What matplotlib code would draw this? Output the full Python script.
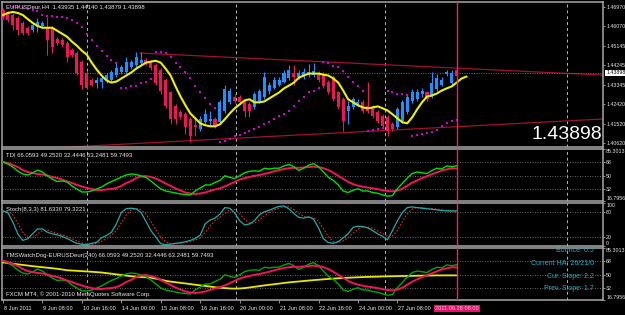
import numpy as np
import matplotlib
matplotlib.use('Agg')
import matplotlib.pyplot as plt
from matplotlib.transforms import blended_transform_factory

plt.rcParams['font.family'] = ['Liberation Sans', 'DejaVu Sans']

# ---------------- data ----------------
ha_open = [1.4683, 1.4669, 1.4660, 1.4646, 1.4623, 1.4600, 1.4590, 1.4604, 1.4609, 1.4604,
           1.4600, 1.4549, 1.4544, 1.4530, 1.4497, 1.4484, 1.4442, 1.4391, 1.4358, 1.4344,
           1.4349, 1.4358, 1.4358, 1.4381, 1.4395, 1.4395, 1.4419, 1.4428, 1.4437, 1.4451,
           1.4442, 1.4428, 1.4405, 1.4358, 1.4298, 1.4233, 1.4205, 1.4196, 1.4173, 1.4145,
           1.4126, 1.4159, 1.4163, 1.4173, 1.4159, 1.4210, 1.4252, 1.4279, 1.4275, 1.4256,
           1.4242, 1.4228, 1.4256, 1.4275, 1.4303, 1.4321, 1.4335, 1.4349, 1.4367, 1.4391,
           1.4372, 1.4372, 1.4381, 1.4381, 1.4391, 1.4386, 1.4349, 1.4372, 1.4298, 1.4266,
           1.4210, 1.4228, 1.4242, 1.4252, 1.4233, 1.4228, 1.4205, 1.4186, 1.4182, 1.4149,
           1.4135, 1.4163, 1.4205, 1.4256, 1.4266, 1.4289, 1.4298, 1.4279, 1.4312, 1.4335,
           1.4386, 1.4344, 1.4405]
ha_close = [1.4651, 1.4637, 1.4613, 1.4590, 1.4576, 1.4576, 1.4613, 1.4627, 1.4623, 1.4544,
            1.4511, 1.4530, 1.4521, 1.4465, 1.4474, 1.4391, 1.4335, 1.4321, 1.4335, 1.4358,
            1.4367, 1.4381, 1.4395, 1.4414, 1.4419, 1.4442, 1.4442, 1.4465, 1.4451, 1.4437,
            1.4414, 1.4344, 1.4303, 1.4233, 1.4173, 1.4173, 1.4182, 1.4135, 1.4094, 1.4135,
            1.4173, 1.4196, 1.4173, 1.4140, 1.4252, 1.4312, 1.4303, 1.4256, 1.4252, 1.4210,
            1.4210, 1.4289, 1.4303, 1.4372, 1.4335, 1.4358, 1.4358, 1.4391, 1.4405, 1.4372,
            1.4391, 1.4395, 1.4395, 1.4400, 1.4358, 1.4326, 1.4298, 1.4266, 1.4228, 1.4163,
            1.4233, 1.4266, 1.4252, 1.4210, 1.4210, 1.4186, 1.4163, 1.4140, 1.4117, 1.4126,
            1.4219, 1.4252, 1.4275, 1.4298, 1.4298, 1.4303, 1.4266, 1.4344, 1.4367, 1.4358,
            1.4395, 1.4391, 1.4377]
ha_high = [1.4692, 1.4678, 1.4669, 1.4655, 1.4632, 1.4609, 1.4623, 1.4646, 1.4632, 1.4651,
           1.4609, 1.4558, 1.4553, 1.4539, 1.4507, 1.4493, 1.4451, 1.4400, 1.4367, 1.4372,
           1.4377, 1.4391, 1.4405, 1.4437, 1.4428, 1.4465, 1.4451, 1.4488, 1.4488, 1.4460,
           1.4451, 1.4437, 1.4414, 1.4367, 1.4307, 1.4242, 1.4214, 1.4205, 1.4182, 1.4182,
           1.4186, 1.4219, 1.4210, 1.4182, 1.4261, 1.4335, 1.4321, 1.4289, 1.4284, 1.4266,
           1.4252, 1.4298, 1.4312, 1.4395, 1.4349, 1.4372, 1.4372, 1.4405, 1.4428, 1.4428,
           1.4405, 1.4414, 1.4433, 1.4437, 1.4400, 1.4395, 1.4358, 1.4381, 1.4307, 1.4275,
           1.4256, 1.4279, 1.4266, 1.4261, 1.4349, 1.4238, 1.4214, 1.4196, 1.4191, 1.4159,
           1.4228, 1.4261, 1.4289, 1.4312, 1.4312, 1.4317, 1.4307, 1.4395, 1.4386, 1.4372,
           1.4405, 1.4405, 1.4414]
ha_low = [1.4641, 1.4627, 1.4590, 1.4567, 1.4567, 1.4567, 1.4581, 1.4581, 1.4600, 1.4474,
          1.4484, 1.4521, 1.4511, 1.4442, 1.4465, 1.4381, 1.4312, 1.4312, 1.4326, 1.4321,
          1.4321, 1.4340, 1.4349, 1.4372, 1.4386, 1.4386, 1.4409, 1.4419, 1.4428, 1.4428,
          1.4405, 1.4335, 1.4293, 1.4224, 1.4149, 1.4149, 1.4173, 1.4103, 1.4066, 1.4094,
          1.4117, 1.4149, 1.4140, 1.4131, 1.4149, 1.4200, 1.4242, 1.4247, 1.4242, 1.4182,
          1.4182, 1.4219, 1.4247, 1.4266, 1.4293, 1.4312, 1.4326, 1.4340, 1.4358, 1.4335,
          1.4363, 1.4363, 1.4372, 1.4372, 1.4349, 1.4317, 1.4289, 1.4256, 1.4219, 1.4117,
          1.4149, 1.4219, 1.4233, 1.4200, 1.4200, 1.4177, 1.4154, 1.4131, 1.4094, 1.4117,
          1.4126, 1.4154, 1.4196, 1.4247, 1.4256, 1.4279, 1.4256, 1.4270, 1.4303, 1.4326,
          1.4377, 1.4335, 1.4367]

ma_line = [1.4660, 1.4669, 1.4674, 1.4669, 1.4660, 1.4641, 1.4623, 1.4609, 1.4600, 1.4600,
           1.4600, 1.4586, 1.4572, 1.4558, 1.4535, 1.4516, 1.4493, 1.4474, 1.4437, 1.4405,
           1.4377, 1.4354, 1.4344, 1.4349, 1.4363, 1.4377, 1.4391, 1.4409, 1.4423, 1.4437,
           1.4442, 1.4446, 1.4437, 1.4409, 1.4377, 1.4326, 1.4279, 1.4238, 1.4200, 1.4177,
           1.4154, 1.4145, 1.4140, 1.4140, 1.4149, 1.4173, 1.4200, 1.4224, 1.4242, 1.4261,
           1.4266, 1.4252, 1.4252, 1.4256, 1.4270, 1.4284, 1.4298, 1.4317, 1.4330, 1.4344,
           1.4367, 1.4377, 1.4386, 1.4386, 1.4386, 1.4381, 1.4377, 1.4363, 1.4344, 1.4307,
           1.4266, 1.4252, 1.4238, 1.4228, 1.4224, 1.4228, 1.4233, 1.4224, 1.4214, 1.4196,
           1.4177, 1.4159, 1.4154, 1.4182, 1.4219, 1.4252, 1.4279, 1.4284, 1.4293, 1.4307,
           1.4317, 1.4326, 1.4344, 1.4363, 1.4372]

sar = [1.4641, 1.4641, 1.4697, 1.4697, 1.4692, 1.4688, 1.4683, 1.4678, 1.4660, 1.4655,
       1.4655, 1.4651, 1.4651, 1.4646, 1.4637, 1.4623, 1.4604, 1.4572, 1.4544, 1.4516,
       1.4493, 1.4470, 1.4451, 1.4437, 1.4317, 1.4321, 1.4326, 1.4330, 1.4340, 1.4349,
       1.4363, 1.4488, 1.4488, 1.4484, 1.4465, 1.4437, 1.4419, 1.4395, 1.4367, 1.4326,
       1.4298, 1.4270, 1.4242, 1.4224, 1.4066, 1.4071, 1.4080, 1.4094, 1.4099, 1.4108,
       1.4117, 1.4126, 1.4135, 1.4149, 1.4159, 1.4173, 1.4186, 1.4196, 1.4210, 1.4233,
       1.4256, 1.4275, 1.4298, 1.4303, 1.4321, 1.4442, 1.4437, 1.4423, 1.4419, 1.4400,
       1.4372, 1.4349, 1.4326, 1.4303, 1.4117, 1.4122, 1.4126, 1.4131, 1.4303, 1.4298,
       1.4293, 1.4293, 1.4284, 1.4094, 1.4098, 1.4103, 1.4108, 1.4112, 1.4121, 1.4140,
       1.4154, 1.4163, 1.4168]

tdi_rsi = [68.2, 65.5, 61.6, 56.3, 52.4, 51.1, 53.7, 57.6, 55.0, 49.7,
           45.8, 42.5, 43.2, 41.8, 36.6, 32.6, 28.7, 28.7, 30.0, 32.6,
           35.3, 39.2, 42.5, 45.1, 48.4, 51.1, 52.4, 51.7, 49.7, 47.8,
           43.2, 37.9, 32.6, 30.0, 28.7, 27.4, 26.0, 25.4, 24.7, 30.0,
           33.9, 37.9, 37.9, 41.2, 44.0, 50.0, 48.0, 46.5, 50.0, 54.0,
           56.0, 56.5, 56.0, 60.0, 59.0, 60.0, 60.0, 63.0, 65.0, 62.0,
           57.0, 60.0, 64.0, 66.0, 62.0, 55.0, 48.0, 44.0, 38.0, 30.0,
           28.0, 31.0, 33.0, 30.0, 30.0, 28.0, 27.0, 25.0, 23.0, 24.0,
           33.0, 40.0, 47.0, 53.0, 55.0, 54.0, 53.0, 57.0, 60.0, 59.0,
           63.0, 62.0, 63.2]
tdi_signal = [68.2, 66.9, 64.2, 61.6, 57.6, 55.0, 53.7, 52.4, 51.7, 50.4,
              48.4, 47.1, 45.1, 42.5, 40.5, 37.9, 35.9, 33.9, 32.6, 31.3,
              31.3, 32.0, 32.6, 33.9, 36.6, 40.5, 43.2, 47.1, 49.1, 49.7,
              48.4, 46.4, 43.2, 39.9, 36.6, 33.3, 30.6, 28.0, 26.7, 26.0,
              26.7, 28.0, 30.0, 32.0, 33.5, 36.0, 39.0, 42.0, 45.0, 47.0,
              48.5, 50.0, 51.0, 52.5, 54.0, 56.0, 57.5, 59.0, 60.0, 60.5,
              60.5, 61.0, 61.5, 62.0, 61.5, 60.0, 57.5, 54.0, 50.0, 46.0,
              42.0, 39.0, 37.0, 35.5, 34.5, 33.5, 32.5, 31.0, 30.0, 29.5,
              30.5, 33.0, 37.0, 41.0, 44.0, 47.0, 49.5, 52.0, 54.5, 57.0,
              58.5, 60.0, 59.7]
tms_base = [66.3, 65.5, 64.6, 63.8, 63.0, 62.2, 61.4, 60.7, 60.0, 59.3,
            58.6, 57.9, 57.0, 56.0, 55.6, 55.2, 54.8, 54.4, 54.0, 53.5,
            53.0, 52.2, 51.4, 50.6, 49.7, 48.9, 48.1, 47.5, 47.1, 46.7,
            46.2, 45.0, 43.6, 42.0, 41.0, 40.2, 39.4, 38.6, 37.8, 36.9,
            36.1, 35.3, 34.5, 33.6, 33.0, 32.5, 32.0, 31.8, 32.0, 32.5,
            33.3, 34.2, 35.1, 36.0, 36.8, 37.6, 38.4, 39.2, 40.0, 40.6,
            41.2, 41.8, 42.4, 43.0, 43.5, 44.0, 44.5, 45.0, 45.4, 45.8,
            46.1, 46.4, 46.7, 47.0, 47.2, 47.4, 47.6, 47.8, 48.0, 48.1,
            48.2, 48.4, 48.5, 48.6, 48.8, 48.9, 49.0, 49.1, 49.2, 49.2,
            49.25, 49.25, 49.25]
stoch_main = [81.7, 77.1, 55.8, 28.3, 13.0, 16.9, 28.3, 39.7, 39.7, 32.1,
              28.3, 26.0, 22.2, 17.6, 11.5, 6.2, 3.9, 3.1, 6.2, 8.5,
              19.1, 24.5, 32.1, 51.2, 77.9, 87.0, 87.8, 86.3, 77.9, 57.3,
              35.9, 20.7, 5.4, 3.1, 4.6, 6.2, 7.7, 10.0, 13.0, 17.6,
              25.2, 51.2, 60.3, 64.9, 74.1, 89.3, 87.8, 77.1, 58.8, 48.9,
              51.2, 58.8, 72.5, 79.4, 83.2, 87.8, 92.4, 93.2, 86.3, 75.6,
              66.5, 64.9, 68.0, 62.6, 42.0, 16.8, 7.7, 6.2, 10.0, 19.1,
              28.3, 43.6, 45.9, 45.1, 42.0, 35.9, 28.3, 22.2, 14.6, 35.9,
              58.8, 77.9, 89.3, 90.9, 89.3, 87.8, 86.5, 85.5, 84.0, 82.5,
              81.9, 81.7, 81.6]
stoch_signal = [80, 80, 72, 53, 32, 20, 19, 28, 36, 37,
                33, 29, 26, 22, 17, 12, 7, 4, 4, 6,
                11, 17, 25, 36, 54, 72, 84, 87, 84, 74,
                57, 38, 20, 10, 4, 5, 6, 8, 10, 14,
                19, 31, 46, 59, 67, 76, 84, 85, 75, 62,
                53, 53, 61, 70, 78, 84, 88, 91, 91, 85,
                76, 69, 66, 65, 58, 40, 22, 10, 8, 12,
                19, 30, 39, 45, 44, 41, 35, 29, 22, 24,
                36, 57, 75, 86, 90, 89, 88, 87, 86, 84,
                82, 80, 79.3]

upper_trend_bars = [27.8, 121.7]
upper_trend_prices = [1.4482, 1.4379]
lower_trend_bars = [9.1, 121.7]
lower_trend_prices = [1.4038, 1.4174]

price_ticks = [1.46970, 1.46070, 1.45145, 1.44245, 1.43345, 1.42420, 1.41520, 1.40620]
last_price = 1.43898
vline_bar = 92
grid_bars = [17.0, 47.3, 77.5, 114.4]

date_bars = [0, 8, 16, 24, 32, 40, 48, 56, 64, 72, 80]
date_labels = ['8 Jun 2011', '9 Jun 08:00', '10 Jun 16:00', '14 Jun 00:00', '15 Jun 08:00',
               '16 Jun 16:00', '20 Jun 00:00', '21 Jun 08:00', '22 Jun 16:00', '24 Jun 00:00',
               '27 Jun 08:00']
cursor_label = '2011.06.28 08:00'

osc_min, osc_max = 16.7956, 85.3013
osc_levels = [68, 50, 32]
stoch_levels = [80, 20]
tms_info = ['Bounce: 0.5', 'Current HA: 26/21/0', 'Cur. Slope: 2.2', 'Prev. Slope: 1.7']

# ---------------- styling ----------------
BG = 'black'
FG = '#E8E8E8'
SEP = '#A8A8A8'
RED = '#F0145A'
BLUE = '#1E90FF'
VLINE = '#FF1A6A'
FS = 4.3      # header text
FSD = 4.1     # date text
FSY = 3.8     # right-hand scale labels
W, H = 625, 315
XMAX = 121.7

fig = plt.figure(figsize=(W / 100, H / 100), dpi=100, facecolor=BG)


def rect(top, bottom, left=2, right=603):
    return [left / W, 1 - bottom / H, (right - left) / W, (bottom - top) / H]


ax_main = fig.add_axes(rect(2, 147))
ax_tdi = fig.add_axes(rect(149, 201))
ax_sto = fig.add_axes(rect(203, 246))
ax_tms = fig.add_axes(rect(248, 300))
axes = [ax_main, ax_tdi, ax_sto, ax_tms]

n = len(ha_open)
x = np.arange(n)
for ax in axes:
    ax.set_facecolor(BG)
    ax.set_xlim(-0.2, XMAX)
    for s in ax.spines.values():
        s.set_color(SEP)
        s.set_linewidth(1.1)
    ax.tick_params(axis='y', which='both', left=False, right=True, labelleft=False,
                   labelright=True, length=1.6, width=0.6, color=SEP, pad=0.6,
                   labelsize=FSY, labelcolor=FG)
    ax.tick_params(axis='x', bottom=False, labelbottom=False)
    for gb in grid_bars:
        ax.axvline(gb, color='#B8B8B8', lw=0.7, ls=(0, (3, 3)), zorder=1)
    ax.axvline(vline_bar, color=VLINE, lw=1.0, zorder=6)

# ---- main price panel ----
o = np.array(ha_open); c = np.array(ha_close)
hi = np.array(ha_high); lo = np.array(ha_low)
cols = [BLUE if cc >= oo else RED for oo, cc in zip(o, c)]
ax_main.vlines(x, lo, hi, colors=cols, lw=0.8, zorder=3)
ax_main.bar(x, np.maximum(np.abs(c - o), 0.00012), bottom=np.minimum(o, c), width=0.62,
            color=cols, linewidth=0, zorder=3)
ax_main.plot(np.arange(len(ma_line)), ma_line, color='#F0F000', lw=1.5, zorder=5)
ax_main.scatter(np.arange(len(sar)), sar, s=2.2, marker='s', color='#D000D0', linewidths=0,
                zorder=4)
ax_main.plot(upper_trend_bars, upper_trend_prices, color='#A0122E', lw=0.9, zorder=2)
ax_main.plot(lower_trend_bars, lower_trend_prices, color='#A0122E', lw=0.9, zorder=2)
ax_main.axhline(last_price, color='#7A6A6A', lw=0.7, ls=(0, (1, 1.5)), zorder=2)
ax_main.set_ylim(1.40433, 1.47203)
ax_main.set_yticks(price_ticks)
ax_main.set_yticklabels([f'{p:.5f}' for p in price_ticks])
ax_main.annotate(f'{last_price:.5f}', xy=(1.0, last_price), xycoords=('axes fraction', 'data'),
                 xytext=(2.2, 0), textcoords='offset points', ha='left', va='center',
                 fontsize=FSY, color='black', annotation_clip=False,
                 bbox=dict(boxstyle='square,pad=0.12', fc='white', ec='none'))
ax_main.text(0.006, 0.985, 'EURUSDeur,H4  1.43935 1.44140 1.43879 1.43898',
             transform=ax_main.transAxes, ha='left', va='top', fontsize=FS, color=FG, zorder=7)
ax_main.text(0.998, 0.03, f'{last_price:.5f}', transform=ax_main.transAxes, ha='right',
             va='bottom', fontsize=14, color='white', zorder=7)


def osc_axis(ax, vmin, vmax, ticks, labels):
    ax.set_ylim(vmin, vmax)
    ax.set_yticks(ticks)
    ax.set_yticklabels(labels)
    tl = ax.get_yticklabels()
    tl[0].set_va('top')
    tl[-1].set_va('bottom')


# ---- TDI ----
for lv in osc_levels:
    ax_tdi.axhline(lv, color='#8A8A8A', lw=0.6, ls=(0, (1, 2)), zorder=1)
ax_tdi.plot(x, tdi_rsi, color='#00E000', lw=1.0, zorder=4)
ax_tdi.plot(x, tdi_signal, color=RED, lw=1.4, zorder=3)
osc_axis(ax_tdi, osc_min, osc_max, [osc_max, 68, 50, 32, osc_min],
         ['85.3013', '68', '50', '32', '16.7956'])
ax_tdi.text(0.006, 0.93, 'TDI 66.0593 49.2520 32.4446 63.2481 59.7493',
            transform=ax_tdi.transAxes, ha='left', va='top', fontsize=FS, color=FG)

# ---- Stochastic ----
for lv in stoch_levels:
    ax_sto.axhline(lv, color='#8A8A8A', lw=0.6, ls=(0, (1, 2)), zorder=1)
ax_sto.plot(x, stoch_main, color='#22AAAA', lw=0.9, zorder=4)
ax_sto.plot(x, stoch_signal, color='#E02828', lw=0.8, ls=(0, (1.5, 1.5)), zorder=3)
osc_axis(ax_sto, 0, 100, [100, 80, 20, 0], ['100', '80', '20', '0'])
ax_sto.text(0.006, 0.9, 'Stoch(8,3,3) 81.6330 79.3221', transform=ax_sto.transAxes,
            ha='left', va='top', fontsize=FS, color=FG)

# ---- TMS WatchDog ----
for lv in osc_levels:
    ax_tms.axhline(lv, color='#8A8A8A', lw=0.6, ls=(0, (1, 2)), zorder=1)
ax_tms.plot(x, tms_base, color='#E8E800', lw=1.3, zorder=3)
ax_tms.plot(x, tdi_rsi, color='#00A800', lw=1.0, zorder=4)
ax_tms.plot(x, tdi_signal, color=RED, lw=1.4, zorder=4)
osc_axis(ax_tms, osc_min, osc_max, [osc_max, 68, 50, 32, osc_min],
         ['85.3013', '68', '50', '32', '16.7956'])
ax_tms.text(0.006, 0.9, 'TMSWatchDog-EURUSDeur(240) 66.0593 49.2520 32.4446 63.2481 59.7493',
            transform=ax_tms.transAxes, ha='left', va='top', fontsize=FS, color=FG)
ax_tms.text(0.006, 0.05, 'FXCM MT4, \u00a9 2001-2010 MetaQuotes Software Corp.',
            transform=ax_tms.transAxes, ha='left', va='bottom', fontsize=FS, color=FG, zorder=7)
info_y = [0.96, 0.71, 0.46, 0.23]
for t, yy in zip(tms_info, info_y):
    ax_tms.text(0.985, yy, t, transform=ax_tms.transAxes, ha='right', va='center',
                fontsize=5.0, color='#20B0C8', zorder=7)

# ---- time axis ----
ax_tms.set_xticks(date_bars)
ax_tms.tick_params(axis='x', bottom=True, length=2.5, width=0.6, color=SEP, labelbottom=False)
tr = blended_transform_factory(ax_tms.transData, ax_tms.transAxes)
for b, lab in zip(date_bars, date_labels):
    ax_tms.text(b + 0.15, -0.17, lab, transform=tr, ha='left', va='center', fontsize=FSD,
                color=FG, clip_on=False)
ax_tms.text(vline_bar, -0.17, cursor_label, transform=tr, ha='center', va='center',
            fontsize=FSD, color='#FFC8D8', clip_on=False, zorder=8,
            bbox=dict(boxstyle='square,pad=0.2', fc='#E8106A', ec='none'))

fig.savefig('out.png', dpi=100, facecolor=BG)
